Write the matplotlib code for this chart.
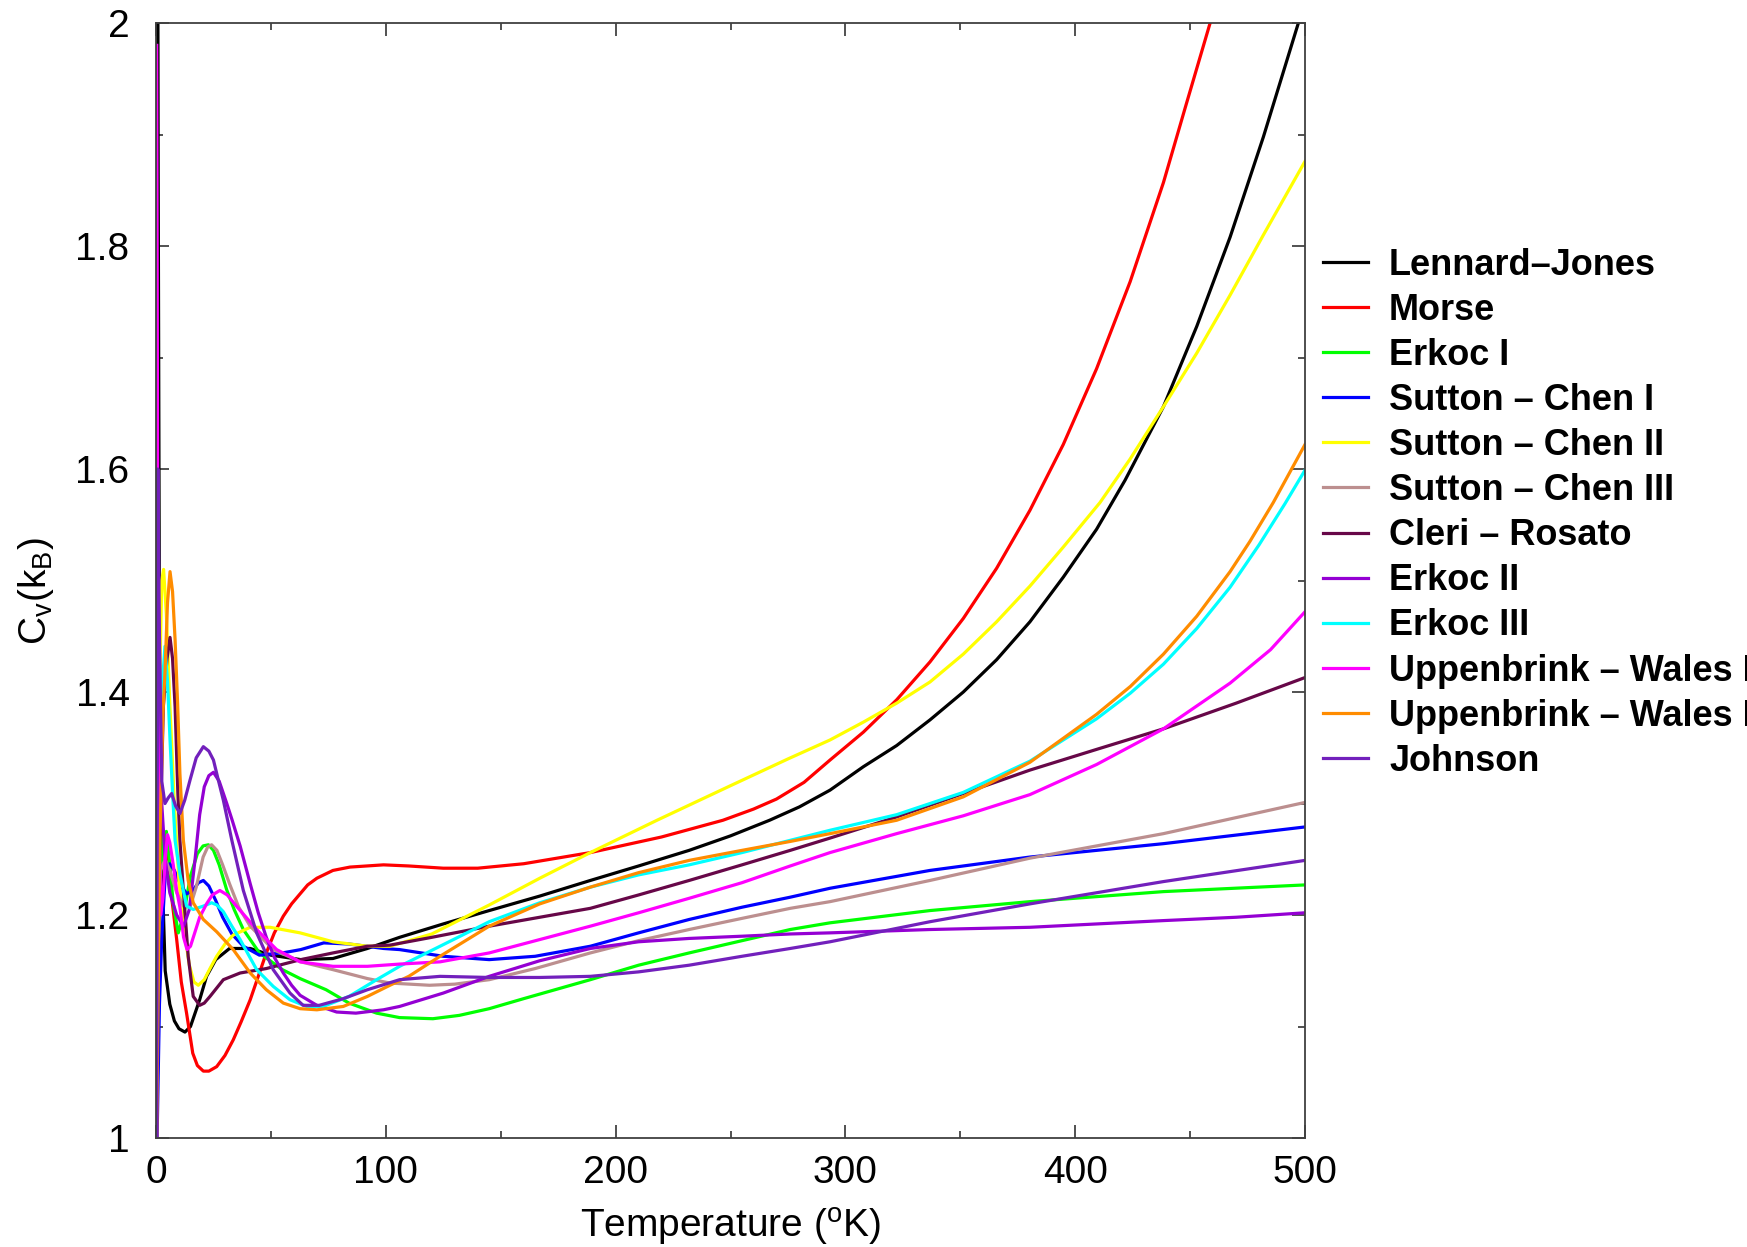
import numpy as np
import matplotlib
matplotlib.use('Agg')
import matplotlib.pyplot as plt
from matplotlib.ticker import MultipleLocator, FormatStrFormatter

plt.rcParams['font.family'] = ['Liberation Sans', 'DejaVu Sans']
plt.rcParams['mathtext.fontset'] = 'custom'
plt.rcParams['mathtext.rm'] = 'Liberation Sans'
plt.rcParams['mathtext.it'] = 'Liberation Sans:italic'
plt.rcParams['mathtext.bf'] = 'Liberation Sans:bold'

# ---- data: temperature (K) and Cv (kB) per potential ----
T_lj = [0.2, 0.7, 1.5, 2.5, 4, 6, 8, 10, 12.6, 15, 19, 22, 26, 32, 41, 50, 63, 77, 92, 106,
        125, 145, 167, 189, 210, 232, 250, 267, 280, 293.3, 307.8, 322.3, 336.8, 351.3, 365.8,
        380.3, 394.8, 409.3, 421.7, 438.4, 452.9, 467.4, 481.9, 497.1, 500]
cv_lj = [1.04, 2.05, 1.45, 1.25, 1.15, 1.12, 1.105, 1.098, 1.095, 1.10, 1.124, 1.145, 1.160,
         1.170, 1.170, 1.164, 1.160, 1.161, 1.170, 1.180, 1.192, 1.204, 1.217, 1.231, 1.244,
         1.258, 1.271, 1.285, 1.297, 1.312, 1.333, 1.352, 1.375, 1.400, 1.429, 1.463, 1.503,
         1.546, 1.590, 1.656, 1.728, 1.808, 1.898, 2.0, 2.02]

T_morse = [0.5, 1.5, 3, 4.5, 6, 9, 11, 13.3, 16, 18, 20.6, 23, 26.4, 30, 33.6, 37, 41, 44.5,
           48, 51.5, 55.4, 59, 62.7, 66, 70, 77, 84.4, 99, 110, 125, 140, 160, 189, 220,
           246.7, 260, 270, 282, 293.3, 307.8, 322.3, 336.8, 351.3, 365.8, 380.3, 394.8,
           409.3, 423.9, 438.4, 448, 458.7, 462]
cv_morse = [1.10, 1.22, 1.275, 1.26, 1.23, 1.178, 1.14, 1.112, 1.076, 1.065, 1.060, 1.060,
            1.064, 1.074, 1.088, 1.104, 1.124, 1.145, 1.166, 1.184, 1.199, 1.210, 1.219,
            1.227, 1.233, 1.240, 1.243, 1.245, 1.244, 1.242, 1.242, 1.246, 1.256, 1.270,
            1.285, 1.295, 1.304, 1.319, 1.339, 1.364, 1.393, 1.427, 1.466, 1.511, 1.563,
            1.622, 1.690, 1.768, 1.857, 1.925, 2.0, 2.03]

T_erk1 = [0.5, 1.5, 3, 4.5, 6, 7.5, 9.7, 12, 15, 18, 20.5, 22.8, 25, 27.5, 30.7, 34, 38, 45,
          55, 62.7, 74, 84, 96, 106, 120.5, 132, 145, 160, 189, 210, 232, 255, 276, 293.3,
          336.8, 380.3, 438.4, 500]
cv_erk1 = [1.10, 1.22, 1.27, 1.275, 1.245, 1.21, 1.184, 1.20, 1.235, 1.255, 1.262, 1.263,
           1.258, 1.245, 1.223, 1.205, 1.187, 1.166, 1.151, 1.143, 1.133, 1.121, 1.112, 1.108,
           1.107, 1.110, 1.116, 1.125, 1.142, 1.155, 1.166, 1.177, 1.187, 1.193, 1.204,
           1.212, 1.221, 1.227]

T_sc1 = [0.3, 1.5, 2.5, 4, 6, 8, 10.5, 13.3, 16, 18.5, 20.6, 23, 26, 29, 33, 38, 45, 55, 63,
         73, 84, 99, 106, 125, 145, 165, 189, 210, 232, 255, 276, 293.3, 336.8, 380.3, 438.4,
         500]
cv_sc1 = [0.98, 1.12, 1.18, 1.235, 1.246, 1.24, 1.228, 1.219, 1.222, 1.229, 1.231, 1.226,
          1.213, 1.198, 1.183, 1.172, 1.164, 1.166, 1.169, 1.175, 1.174, 1.170, 1.169, 1.163,
          1.160, 1.163, 1.172, 1.184, 1.196, 1.207, 1.216, 1.224, 1.240, 1.252, 1.264, 1.279]

T_sc2 = [0.3, 1.5, 2.5, 3.3, 4.5, 6, 8, 10, 12, 14.5, 16.5, 18.4, 21, 23.5, 26.4, 30, 33.6,
         41, 49.6, 62.7, 77, 92, 101.8, 120, 145, 167, 189, 218, 250, 275, 293.3, 307.8,
         322.3, 336.8, 351.3, 365.8, 380.3, 394.8, 410.8, 423.9, 438.4, 452.9, 467.4, 481.9,
         500]
cv_sc2 = [1.10, 1.40, 1.50, 1.51, 1.47, 1.39, 1.30, 1.23, 1.19, 1.155, 1.14, 1.137, 1.142,
          1.152, 1.163, 1.174, 1.182, 1.189, 1.189, 1.184, 1.176, 1.172, 1.172, 1.183, 1.209,
          1.233, 1.256, 1.285, 1.316, 1.340, 1.357, 1.373, 1.390, 1.409, 1.434, 1.463, 1.495,
          1.530, 1.570, 1.609, 1.656, 1.704, 1.756, 1.810, 1.876]

T_sc3 = [0.5, 2, 4, 6, 9, 12, 14.8, 17.5, 20.5, 22.5, 24.2, 26.5, 29, 32, 36, 41, 51, 63, 77,
         92, 101.8, 119, 130, 145, 165, 189, 210, 232, 255, 276, 293.3, 336.8, 380.3, 438.4,
         500]
cv_sc3 = [1.15, 1.24, 1.25, 1.24, 1.22, 1.208, 1.207, 1.225, 1.252, 1.261, 1.263, 1.258,
          1.245, 1.228, 1.207, 1.190, 1.169, 1.158, 1.151, 1.143, 1.139, 1.137, 1.138, 1.142,
          1.152, 1.166, 1.177, 1.187, 1.197, 1.206, 1.212, 1.231, 1.251, 1.273, 1.301]

T_cr = [0.3, 1.5, 3.2, 4.8, 6.1, 7.2, 8.3, 9.5, 10.4, 11.9, 14, 16.2, 19, 21, 23.5, 29.3,
        36.6, 48, 63, 77, 92, 101.8, 120, 145, 167, 189, 210, 232, 255, 276, 293.3, 322.3,
        351.3, 380.3, 410, 438.4, 470, 500]
cv_cr = [1.05, 1.25, 1.387, 1.43, 1.449, 1.43, 1.387, 1.31, 1.267, 1.222, 1.163, 1.127, 1.119,
         1.121, 1.127, 1.142, 1.148, 1.152, 1.160, 1.166, 1.172, 1.173, 1.180, 1.190, 1.198,
         1.206, 1.218, 1.231, 1.245, 1.258, 1.269, 1.288, 1.309, 1.330, 1.349, 1.367, 1.390,
         1.413]

T_erk2 = [0.3, 1.2, 2.5, 4, 6, 9, 12, 14.5, 17, 19, 21, 23, 25, 27.5, 30.8, 33, 36.6, 41,
          44.5, 48, 51.5, 55.4, 59, 62.7, 70, 78.6, 87, 99, 106, 125, 145, 167, 189, 210, 232,
          255, 276, 293.3, 336.8, 380.3, 438.4, 470, 500]
cv_erk2 = [1.0, 1.35, 1.30, 1.25, 1.22, 1.20, 1.19, 1.205, 1.25, 1.29, 1.315, 1.325, 1.328,
           1.32, 1.300, 1.286, 1.262, 1.228, 1.202, 1.180, 1.162, 1.148, 1.137, 1.128, 1.119,
           1.113, 1.112, 1.115, 1.118, 1.130, 1.145, 1.159, 1.170, 1.176, 1.179, 1.181, 1.183,
           1.184, 1.187, 1.189, 1.195, 1.198, 1.202]

T_erk3 = [0.3, 1.2, 2.5, 3.9, 5, 6.1, 7.2, 8.3, 10.4, 13.3, 16.2, 20.6, 24.2, 26.5, 29.3, 33,
          36.6, 43.8, 51, 58.3, 65.6, 72.8, 84, 96, 106, 123.6, 145, 167, 189, 210, 232, 255,
          276, 293.3, 322.3, 351.3, 380.3, 409.3, 424, 438.4, 452.9, 467.4, 480, 491.3, 500]
cv_erk3 = [1.05, 1.25, 1.40, 1.441, 1.41, 1.357, 1.31, 1.267, 1.237, 1.208, 1.205, 1.208,
           1.211, 1.209, 1.203, 1.19, 1.178, 1.151, 1.136, 1.124, 1.118, 1.118, 1.127, 1.142,
           1.154, 1.172, 1.194, 1.211, 1.225, 1.236, 1.245, 1.256, 1.267, 1.276, 1.290, 1.310,
           1.338, 1.376, 1.399, 1.425, 1.457, 1.494, 1.532, 1.569, 1.599]

T_uw1 = [0.3, 0.7, 1.2, 2, 3, 4, 5, 6, 7.5, 9, 10.4, 12, 13.5, 15, 17, 19, 22, 24.5, 27.8, 31,
         35, 43.8, 52.5, 62.7, 77, 92, 106, 123.6, 145, 167, 189, 210, 232, 255, 276, 293.3,
         322.3, 351.3, 380.3, 409.3, 438.4, 467.4, 485, 500]
cv_uw1 = [1.98, 1.6, 1.3, 1.2, 1.215, 1.25, 1.272, 1.265, 1.245, 1.222, 1.207, 1.18, 1.169,
          1.172, 1.185, 1.198, 1.21, 1.218, 1.222, 1.218, 1.208, 1.187, 1.169, 1.158, 1.154,
          1.154, 1.156, 1.158, 1.166, 1.178, 1.190, 1.202, 1.215, 1.229, 1.244, 1.256, 1.273,
          1.289, 1.308, 1.335, 1.367, 1.408, 1.438, 1.472]

T_uw2 = [0.3, 1.5, 3, 3.9, 5, 6.1, 7.2, 8.3, 9.4, 10.4, 11.9, 14, 16.2, 20.6, 26.4, 33.6, 41,
         48, 55.4, 62.7, 70, 81.5, 92, 101.8, 110, 123.6, 145, 167, 189, 210, 232, 255, 276,
         293.3, 322.3, 351.3, 380.3, 409.3, 424, 438.4, 452.9, 467.4, 476, 486.2, 500]
cv_uw2 = [1.0, 1.25, 1.38, 1.417, 1.48, 1.508, 1.49, 1.447, 1.39, 1.327, 1.267, 1.231, 1.211,
          1.196, 1.185, 1.169, 1.148, 1.133, 1.121, 1.116, 1.115, 1.118, 1.127, 1.137, 1.145,
          1.163, 1.190, 1.21, 1.225, 1.238, 1.249, 1.258, 1.266, 1.273, 1.285, 1.306, 1.337,
          1.380, 1.405, 1.434, 1.468, 1.508, 1.535, 1.570, 1.622]

T_john = [0.2, 0.8, 1.5, 2.5, 3.9, 5.3, 6.8, 8.5, 10.4, 12.5, 14.8, 17.5, 20.6, 23, 25, 27,
          29.3, 33, 38, 43.8, 51, 58.3, 64, 71, 81.5, 92, 106, 123.6, 145, 167, 189, 210, 232,
          255, 276, 293.3, 336.8, 380.3, 438.4, 500]
cv_john = [0.9, 1.6, 1.45, 1.32, 1.30, 1.305, 1.309, 1.298, 1.291, 1.303, 1.321, 1.341, 1.351,
           1.347, 1.339, 1.322, 1.303, 1.267, 1.222, 1.184, 1.151, 1.130, 1.119, 1.119, 1.125,
           1.133, 1.142, 1.145, 1.144, 1.144, 1.145, 1.149, 1.155, 1.163, 1.170, 1.176, 1.194,
           1.210, 1.230, 1.249]

labels = ['Lennard\u2013Jones', 'Morse', 'Erkoc I', 'Sutton \u2013 Chen I',
          'Sutton \u2013 Chen II', 'Sutton \u2013 Chen III', 'Cleri \u2013 Rosato',
          'Erkoc II', 'Erkoc III', 'Uppenbrink \u2013 Wales I',
          'Uppenbrink \u2013 Wales II', 'Johnson']
colors = ['#000000', '#ff0000', '#00ff00', '#0000ff', '#ffff00', '#bc8f8f', '#670748',
          '#9400d3', '#00ffff', '#ff00ff', '#ff8c00', '#7220bc']
series = [(T_lj, cv_lj), (T_morse, cv_morse), (T_erk1, cv_erk1), (T_sc1, cv_sc1),
          (T_sc2, cv_sc2), (T_sc3, cv_sc3), (T_cr, cv_cr), (T_erk2, cv_erk2),
          (T_erk3, cv_erk3), (T_uw1, cv_uw1), (T_uw2, cv_uw2), (T_john, cv_john)]

fig = plt.figure(figsize=(17.47, 12.47), dpi=100)
ax = fig.add_axes([0.0893, 0.0874, 0.6577, 0.8941])

for (t, cv), lab, col in zip(series, labels, colors):
    ax.plot(t, cv, color=col, lw=2.3, label=lab, solid_joinstyle='round')

ax.set_xlim(0, 500)
ax.set_ylim(1, 2)
ax.xaxis.set_major_locator(MultipleLocator(100))
ax.xaxis.set_minor_locator(MultipleLocator(50))
ax.yaxis.set_major_locator(MultipleLocator(0.2))
ax.yaxis.set_minor_locator(MultipleLocator(0.1))
ax.yaxis.set_major_formatter(FormatStrFormatter('%g'))

ax.tick_params(which='both', direction='in', top=True, right=True, width=1.2, color='0.2')
ax.tick_params(which='major', length=9.5)
ax.tick_params(which='minor', length=5)
ax.tick_params(axis='x', which='major', labelsize=28, pad=12)
ax.tick_params(axis='y', which='major', labelsize=28, pad=19)
for sp in ax.spines.values():
    sp.set_linewidth(1.3)
    sp.set_color('0.25')

ax.set_xlabel(r'Temperature ($^{\mathrm{o}}$K)', fontsize=28)
ax.set_ylabel(r'C$_\mathrm{v}$(k$_\mathrm{B}$)', fontsize=28)
ax.xaxis.set_label_coords(0.5, -0.061)
ax.yaxis.set_label_coords(-0.087, 0.49)

# legend sits right of the axes; the two long labels run off the figure edge as in the original
leg = ax.legend(loc='upper left', bbox_to_anchor=(1323 / 1747, 0.8015),
                bbox_transform=fig.transFigure, frameon=False, borderpad=0,
                borderaxespad=0, handlelength=1.25, handletextpad=0.58,
                labelspacing=0.28, prop={'size': 26, 'weight': 'bold'})

fig.savefig('out.png', dpi=100)
